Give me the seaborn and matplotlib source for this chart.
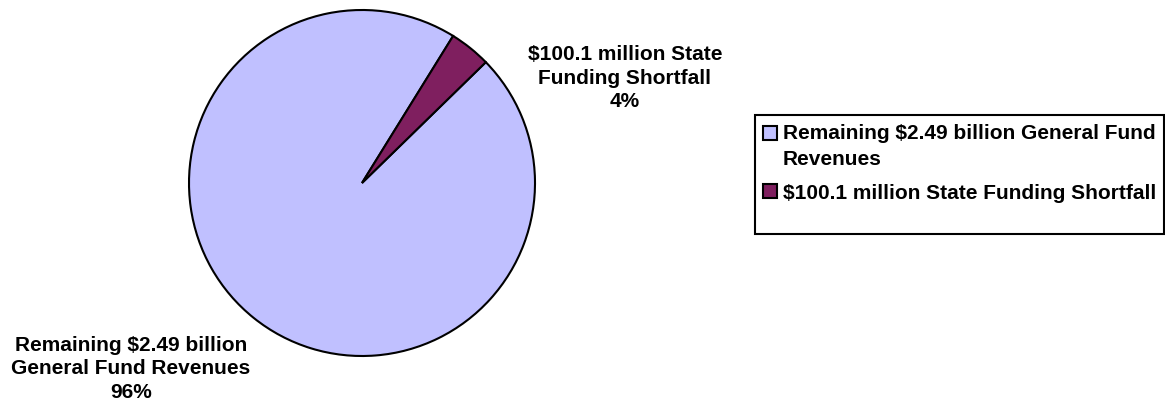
import matplotlib
matplotlib.use("Agg")
import matplotlib.pyplot as plt
import matplotlib.patches as mpatches
import seaborn as sns

# Données (millions de dollars)
categories = ["Remaining $2.49 billion General Fund Revenues",
              "$100.1 million State Funding Shortfall"]
values = [2490.0, 100.1]
slice_labels = ["Remaining $2.49 billion\nGeneral Fund Revenues",
                "$100.1 million State\nFunding Shortfall"]
legend_labels = ["Remaining $2.49 billion General Fund\nRevenues",
                 "$100.1 million State Funding Shortfall"]
colors = ["#C0C0FF", "#7F1F5F"]

sns.set_theme(style="white")
plt.rcParams['font.family'] = ['Liberation Sans', 'DejaVu Sans']
plt.rcParams['text.color'] = 'black'

fig = plt.figure(figsize=(11.65, 4.06), dpi=100)
ax = fig.add_axes([189 / 1165, 1 - 357 / 406, 346 / 1165, 346 / 406])

total = sum(values)
wedges, _ = ax.pie(values, colors=colors, startangle=44.3, counterclock=False,
                   radius=1.0,
                   wedgeprops=dict(edgecolor="black", linewidth=1.5))
ax.set_xlim(-1.0, 1.0)
ax.set_ylim(-1.0, 1.0)
ax.set_aspect("equal")
ax.axis("off")

# Étiquettes des secteurs
pcts = [f"{round(v / total * 100):.0f}%" for v in values]
txt_style = dict(ha="center", va="center", fontsize=15, fontweight="bold",
                 linespacing=1.28, color="black")
fig.text(131 / 1165, 1 - 369 / 406, slice_labels[0] + "\n" + pcts[0], **txt_style)
fig.text(625 / 1165, 1 - 78 / 406, slice_labels[1] + "\n" + pcts[1], **txt_style)

# Cadre de la légende
box = mpatches.Rectangle((755 / 1165, 1 - 235 / 406), 409 / 1165, 119 / 406,
                         transform=fig.transFigure, facecolor="white",
                         edgecolor="black", linewidth=1.5, zorder=0)
fig.patches.append(box)

handles = [mpatches.Patch(facecolor=c, edgecolor="black", linewidth=1.5) for c in colors]
leg = fig.legend(handles, legend_labels, loc="upper left",
                 bbox_to_anchor=(761 / 1165, 1 - 122 / 406), frameon=False,
                 prop=dict(size=15, weight="bold"), handlelength=0.65,
                 handleheight=0.65, handletextpad=0.3, labelspacing=0.7,
                 borderaxespad=0.0, borderpad=0.1)
for t in leg.get_texts():
    t.set_color("black")
    t.set_linespacing(1.48)

# carré de la première entrée aligné sur la première ligne du texte
h0 = leg.legend_handles[0]
h0.set_y(h0.get_y() + 9)

fig.savefig("out.png", dpi=100)
